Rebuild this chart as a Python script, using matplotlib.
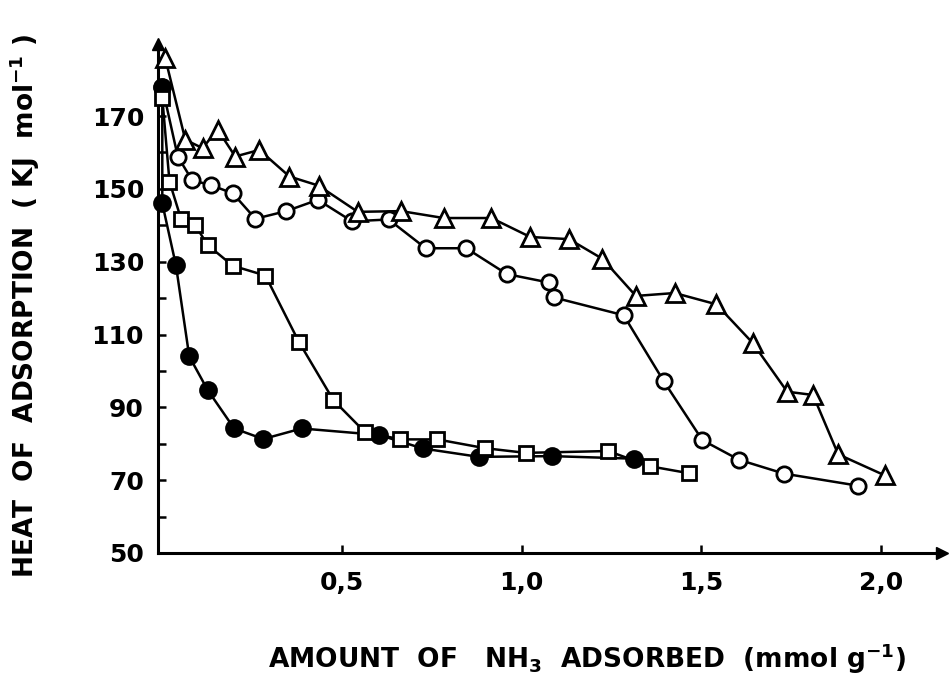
import matplotlib
matplotlib.use("Agg")
import matplotlib.pyplot as plt
from matplotlib.ticker import FixedLocator, FixedFormatter, MultipleLocator

plt.rcParams['font.family'] = ['DejaVu Sans']
plt.rcParams['font.weight'] = 'bold'
plt.rcParams['mathtext.fontset'] = 'custom'
plt.rcParams['mathtext.rm'] = 'DejaVu Sans:bold'
plt.rcParams['mathtext.default'] = 'rm'

# Data
filled_x = [0.0, 0.0, 0.038, 0.075, 0.126, 0.200, 0.281, 0.388, 0.604, 0.725, 0.881, 1.085, 1.312]
filled_y = [178, 146, 129, 104, 94.8, 84.2, 81.3, 84.2, 82.4, 78.7, 76.4, 76.6, 75.9]

square_x = [0.0, 0.020, 0.052, 0.092, 0.126, 0.196, 0.287, 0.380, 0.476, 0.563, 0.662, 0.765,
            0.897, 1.011, 1.241, 1.358, 1.466]
square_y = [175, 152, 141.8, 140, 134.6, 128.9, 126.2, 108, 92, 83.3, 81.2, 81.2,
            78.8, 77.5, 78.0, 73.8, 71.9]

circle_x = [0.0, 0.043, 0.083, 0.136, 0.196, 0.259, 0.345, 0.433, 0.528, 0.630, 0.733, 0.846,
            0.959, 1.075, 1.089, 1.284, 1.396, 1.503, 1.605, 1.730, 1.935]
circle_y = [178, 158.9, 152.4, 151, 148.8, 141.8, 143.9, 147, 141.1, 141.6, 133.7, 133.7,
            126.6, 124.3, 120.2, 115.3, 97.1, 81.0, 75.6, 71.8, 68.5]

tri_x = [0.008, 0.064, 0.112, 0.154, 0.203, 0.270, 0.354, 0.435, 0.544, 0.665, 0.783, 0.916,
         1.024, 1.132, 1.225, 1.318, 1.426, 1.542, 1.643, 1.739, 1.811, 1.881, 2.011]
tri_y = [186, 163.5, 161.2, 166.3, 158.9, 160.7, 153.4, 150.9, 143.7, 143.9, 142, 142,
         136.8, 136.2, 130.8, 120.6, 121.4, 118.3, 107.7, 94.3, 93.4, 77.1, 71.3]

y_ticks = [50, 70, 90, 110, 130, 150, 170]
y_ticklabels = ['50', '70', '90', '110', '130', '150', '170']
x_ticks = [0.5, 1.0, 1.5, 2.0]
x_ticklabels = ['0,5', '1,0', '1,5', '2,0']

fig = plt.figure(figsize=(9.5, 6.78), dpi=100)
ax = fig.add_axes([0.1663, 0.1844, 0.8253, 0.7507])
ax.set_xlim(-0.012, 2.170)
ax.set_ylim(50, 189.8)

lw = 1.8
mew = 2.0
ax.plot(circle_x, circle_y, '-', color='black', lw=lw, zorder=2)
ax.plot(filled_x, filled_y, '-', color='black', lw=lw, zorder=2)
ax.plot(square_x, square_y, '-', color='black', lw=lw, zorder=2)
ax.plot(tri_x, tri_y, '-', color='black', lw=lw, zorder=2)

ax.plot(circle_x, circle_y, 'o', ms=11, mfc='white', mec='black', mew=mew, zorder=3, clip_on=False)
ax.plot(filled_x, filled_y, 'o', ms=11.5, mfc='black', mec='black', mew=mew, zorder=4, clip_on=False)
ax.plot(square_x, square_y, 's', ms=10.5, mfc='white', mec='black', mew=mew, zorder=5, clip_on=False)
ax.plot(tri_x, tri_y, '^', ms=13, mfc='white', mec='black', mew=mew, zorder=6, clip_on=False)

for s in ['top', 'right']:
    ax.spines[s].set_visible(False)
for s in ['left', 'bottom']:
    ax.spines[s].set_linewidth(2.2)

# arrow heads on axes
ax.plot([1], [0], marker='>', ms=9, color='black', transform=ax.transAxes, clip_on=False)
ax.plot([0], [1], marker='^', ms=9, color='black', transform=ax.transAxes, clip_on=False)

ax.yaxis.set_major_locator(FixedLocator(y_ticks))
ax.yaxis.set_major_formatter(FixedFormatter(y_ticklabels))
ax.yaxis.set_minor_locator(MultipleLocator(10))
ax.xaxis.set_major_locator(FixedLocator(x_ticks))
ax.xaxis.set_major_formatter(FixedFormatter(x_ticklabels))

ax.tick_params(axis='y', which='both', direction='in', length=6, width=1.8, pad=10, labelsize=18)
ax.tick_params(axis='x', which='major', direction='in', length=6, width=1.8, pad=13, labelsize=18)
for lab in ax.get_xticklabels() + ax.get_yticklabels():
    lab.set_fontweight('bold')

fig.text(587 / 950, 1 - 659 / 678, 'AMOUNT  OF   NH$_3$  ADSORBED  (mmol g$^{-1}$)',
         fontsize=19, fontweight='bold', ha='center', va='center')
fig.text(25 / 950, 1 - 306 / 678, 'HEAT  OF  ADSORPTION  ( KJ  mol$^{-1}$ )',
         fontsize=19, fontweight='bold', ha='center', va='center', rotation=90)

fig.savefig('out.png', dpi=100, facecolor='white')
